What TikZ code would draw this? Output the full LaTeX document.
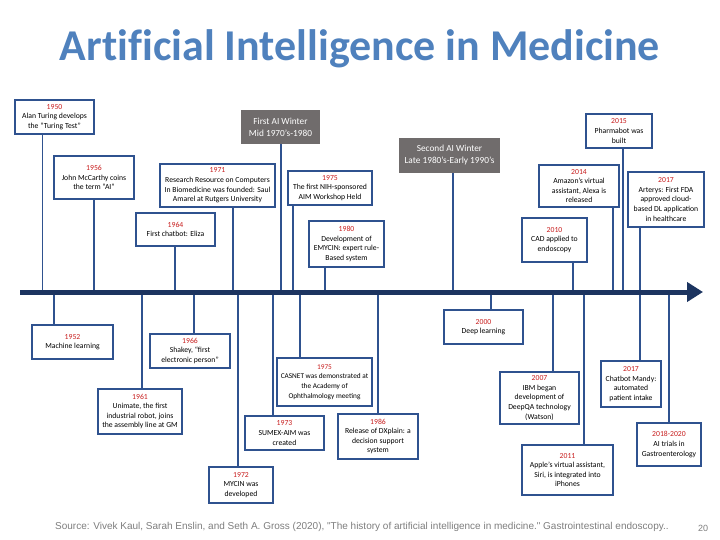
\documentclass[tikz,border=0pt]{standalone}
\usepackage{fontspec}
\setmainfont{Carlito}
\newfontfamily\titlefont[Ligatures=NoCommon]{Carlito}
\newfontfamily\footfont{Liberation Sans}
\usepackage{tikz}
\usetikzlibrary{positioning, calc, arrows.meta}

\definecolor{boxblue}{RGB}{47,82,143}
\definecolor{axisblue}{RGB}{28,52,96}
\definecolor{yearred}{RGB}{200,30,30}
\definecolor{wintergray}{RGB}{112,108,108}
\definecolor{titleblue}{RGB}{79,129,189}
\definecolor{footgray}{RGB}{125,125,125}

\newcommand{\yr}[1]{\textcolor{yearred}{#1}}

\begin{document}
\begin{tikzpicture}[x=1pt, y=-1pt]
        % Define block styles
        \tikzstyle{event} = [rectangle, draw=boxblue, line width=1.3pt, fill=white, align=center, inner sep=1pt, font=\fontsize{7.7}{9.6}\selectfont]
        \tikzstyle{winter} = [rectangle, fill=wintergray, text=white, align=center, inner sep=1pt, font=\fontsize{9.3}{12}\selectfont]
        \tikzstyle{link} = [draw=boxblue, line width=1.2pt]

        \useasboundingbox (0,0) rectangle (720,540);

        % Title
        \node[anchor=base, text=titleblue, font=\titlefont\fontsize{44}{50}\selectfont\bfseries] (title) at (360,61) {Artificial Intelligence in Medicine};

        % Place nodes above the time line
        \node [event, minimum width=79pt, minimum height=34pt] (e1950) at (54.5,117) {\yr{1950}\\Alan Turing develops\\the ``Turing Test''};
        \node [event, minimum width=80pt, minimum height=43pt] (e1956) at (94,177.5) {\yr{1956}\\John McCarthy coins\\the term ``AI''};
        \node [event, minimum width=115pt, minimum height=43pt] (e1971) at (217.5,185.5) {\yr{1971}\\Research Resource on Computers\\In Biomedicine was founded: Saul\\Amarel at Rutgers University};
        \node [event, minimum width=79pt, minimum height=33pt] (e1964) at (175.5,229.5) {\yr{1964}\\First chatbot: Eliza};
        \node [winter, minimum width=79pt, minimum height=34pt] (winter1) at (280.5,127) {First AI Winter\\Mid 1970's-1980};
        \node [event, minimum width=84pt, minimum height=34pt] (e1975a) at (330,188) {\yr{1975}\\The first NIH-sponsored\\AIM Workshop Held};
        \node [event, minimum width=75pt, minimum height=46pt] (e1980) at (346.5,244) {\yr{1980}\\Development of\\EMYCIN: expert rule-\\Based system};
        \node [winter, minimum width=101pt, minimum height=35pt] (winter2) at (449.5,155.5) {Second AI Winter\\Late 1980's-Early 1990's};
        \node [event, minimum width=66pt, minimum height=34pt] (e2015) at (619,131) {\yr{2015}\\Pharmabot was\\built};
        \node [event, minimum width=80pt, minimum height=42pt] (e2014) at (579,186) {\yr{2014}\\Amazon's virtual\\assistant, Alexa is\\released};
        \node [event, minimum width=76pt, minimum height=55pt] (e2017a) at (666,199.5) {\yr{2017}\\Arterys: First FDA\\approved cloud-\\based DL application\\in healthcare};
        \node [event, minimum width=65pt, minimum height=44pt] (e2010) at (554.5,240) {\yr{2010}\\CAD applied to\\endoscopy};

        % Place nodes below the time line
        \node [event, minimum width=81pt, minimum height=34pt] (e1952) at (72.5,342) {\yr{1952}\\Machine learning};
        \node [event, minimum width=80pt, minimum height=34pt] (e1966) at (190,351) {\yr{1966}\\Shakey, ``first\\electronic person''};
        \node [event, minimum width=84pt, minimum height=45pt] (e1961) at (140,411.5) {\yr{1961}\\Unimate, the first\\industrial robot, joins\\the assembly line at GM};
        \node [event, minimum width=95pt, minimum height=48pt, font=\fontsize{7.3}{9.6}\selectfont] (e1975b) at (324.5,382) {\yr{1975}\\CASNET was demonstrated at\\the Academy of\\Ophthalmology meeting};
        \node [event, minimum width=79pt, minimum height=34pt] (e1973) at (284.5,433) {\yr{1973}\\SUMEX-AIM was\\created};
        \node [event, minimum width=80pt, minimum height=45pt] (e1986) at (378,436.5) {\yr{1986}\\Release of DXplain: a\\decision support\\system};
        \node [event, minimum width=64pt, minimum height=36pt] (e1972) at (241,485) {\yr{1972}\\MYCIN was\\developed};
        \node [event, minimum width=79pt, minimum height=34pt] (e2000) at (483.5,327) {\yr{2000}\\Deep learning};
        \node [event, minimum width=79pt, minimum height=52pt] (e2007) at (539.5,398) {\yr{2007}\\IBM began\\development of\\DeepQA technology\\(Watson)};
        \node [event, minimum width=91pt, minimum height=50pt] (e2011) at (567.5,470) {\yr{2011}\\Apple's virtual assistant,\\Siri, is integrated into\\iPhones};
        \node [event, minimum width=60pt, minimum height=46pt] (e2017b) at (631,384) {\yr{2017}\\Chatbot Mandy:\\automated\\patient intake};
        \node [event, minimum width=64pt, minimum height=43pt] (e2018) at (669,444.5) {\yr{2018-2020}\\AI trials in\\Gastroenterology};

        % Time line
        \coordinate (start) at (20,292);
        \coordinate (end) at (703,292);
        \coordinate (axis) at (0,292);

        % Draw connections to the time line
        \foreach \n/\x in {e1950/42.7, e1956/94, e1971/233, e1964/175, winter1/281, e1975a/293, e1980/325, winter2/453, e2015/623, e2014/613, e2017a/640, e2010/573}
            \draw [link] (\n.south -| \x,0) -- (\x,0 |- axis);
        \foreach \n/\x in {e1952/54, e1966/194, e1961/142, e1975b/300, e1973/273, e1986/378, e1972/238, e2000/491, e2007/553, e2011/584, e2017b/640, e2018/669}
            \draw [link] (\x,0 |- axis) -- (\n.north -| \x,0);

        \draw [draw=axisblue, line width=5pt, -{Triangle[length=16pt, width=19pt]}] (start) -- (end);

        % Source and page number
        \node[anchor=base west, text=footgray, font=\footfont\fontsize{10}{11}\selectfont, inner sep=0pt] (source) at (55,529) {Source: Vivek Kaul, Sarah Enslin, and Seth A. Gross (2020), "The history of artificial intelligence in medicine." Gastrointestinal endoscopy..};
        \node[anchor=base, text=footgray, font=\footfont\fontsize{9}{10}\selectfont, inner sep=0pt] (page) at (703,531) {20};
\end{tikzpicture}
\end{document}
